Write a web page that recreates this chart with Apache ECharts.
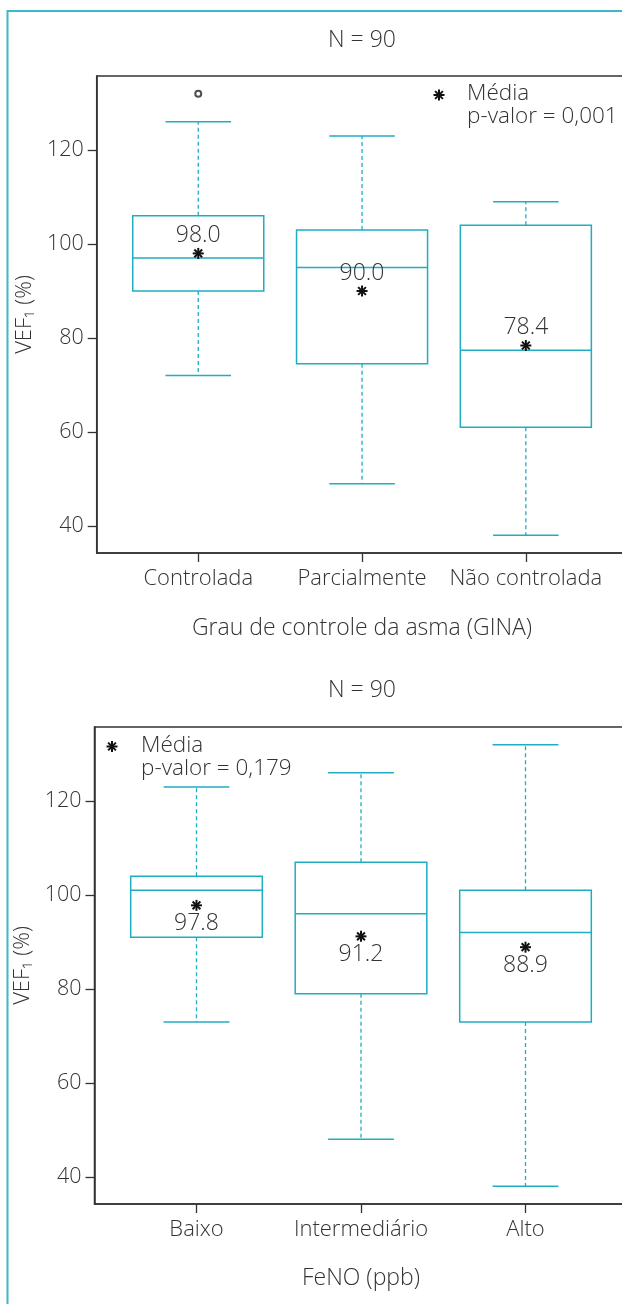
<!DOCTYPE html>
<html><head><meta charset="utf-8">
<script src="https://cdn.jsdelivr.net/npm/echarts@6/dist/echarts.min.js"></script>
<style>html,body{margin:0;padding:0;background:#fff}#c{width:622px;height:1304px}</style>
</head><body><div id="c"></div>
<script>
// ---- Data: top chart (GINA asthma control) ----
const ginaCats = ['Controlada', 'Parcialmente', 'Não controlada'];
const ginaLow  = [72, 49, 38];
const ginaQ1   = [90, 74.5, 61];
const ginaMed  = [97, 95, 77.4];
const ginaQ3   = [106, 103, 104];
const ginaHigh = [126, 123, 109];
const ginaMean = [98.0, 90.0, 78.4];
const ginaOutliers = [[1, 132]];

// ---- Data: bottom chart (FeNO) ----
const fenoCats = ['Baixo', 'Intermediário', 'Alto'];
const fenoLow  = [73, 48, 38];
const fenoQ1   = [91, 79, 73];
const fenoMed  = [101, 96, 92];
const fenoQ3   = [104, 107, 101];
const fenoHigh = [123, 126, 132];
const fenoMean = [97.8, 91.2, 88.9];

const yTicks = [40, 60, 80, 100, 120];
const xPos = [1, 2, 3];

const FONT = "'Open Sans','Noto Sans',sans-serif";
const FW = '300';
const CYAN = '#1fadc2';
const TXT = '#333';
const AX = '#333';

function starEls(cx, cy, r) {
  const els = [];
  for (let k = 0; k < 4; k++) {
    const a = k * Math.PI / 4 + Math.PI / 2;
    els.push({type: 'line', shape: {x1: cx - r * Math.cos(a), y1: cy - r * Math.sin(a), x2: cx + r * Math.cos(a), y2: cy + r * Math.sin(a)},
      style: {stroke: '#111', lineWidth: 2}});
  }
  return els;
}

function boxRender(params, api) {
  const x = api.value(0);
  const lo = api.coord([x, api.value(1)]);
  const q1 = api.coord([x, api.value(2)]);
  const md = api.coord([x, api.value(3)]);
  const q3 = api.coord([x, api.value(4)]);
  const hi = api.coord([x, api.value(5)]);
  const bw = api.size([0.8, 0])[0];
  const cw = api.size([0.4, 0])[0];
  const cx = md[0];
  const solid = {stroke: CYAN, lineWidth: 1.5, fill: null};
  const dashed = {stroke: CYAN, lineWidth: 1.3, lineDash: [4, 3]};
  return {type: 'group', children: [
    {type: 'line', shape: {x1: cx, y1: q3[1], x2: cx, y2: hi[1]}, style: dashed},
    {type: 'line', shape: {x1: cx, y1: q1[1], x2: cx, y2: lo[1]}, style: dashed},
    {type: 'line', shape: {x1: cx - cw / 2, y1: hi[1], x2: cx + cw / 2, y2: hi[1]}, style: solid},
    {type: 'line', shape: {x1: cx - cw / 2, y1: lo[1], x2: cx + cw / 2, y2: lo[1]}, style: solid},
    {type: 'rect', shape: {x: cx - bw / 2, y: q3[1], width: bw, height: q1[1] - q3[1]}, style: {stroke: CYAN, lineWidth: 1.5, fill: '#fff'}},
    {type: 'line', shape: {x1: cx - bw / 2, y1: md[1], x2: cx + bw / 2, y2: md[1]}, style: solid}
  ]};
}

function meanRender(offset) {
  return function (params, api) {
    const p = api.coord([api.value(0), api.value(1)]);
    const els = starEls(p[0], p[1], 5.5);
    els.push({type: 'text', style: {x: p[0], y: p[1] + offset, text: api.value(1).toFixed(1),
      fill: TXT, font: FW + ' 23px ' + FONT, textAlign: 'center', textVerticalAlign: 'middle'}});
    return {type: 'group', children: els};
  };
}

function boxRows(low, q1, med, q3, high) {
  return xPos.map((x, i) => [x, low[i], q1[i], med[i], q3[i], high[i]]);
}

function xAxisFor(gi, cats, name, gap) {
  return {
    gridIndex: gi, type: 'value', min: 0.38, max: 3.62,
    splitLine: {show: false},
    axisLine: {show: true, onZero: false, lineStyle: {color: AX, width: 1.5}},
    axisTick: {show: true, length: 9, customValues: xPos, lineStyle: {color: AX, width: 1.3}},
    axisLabel: {customValues: xPos, formatter: v => cats[Math.round(v) - 1] || '', color: TXT, fontSize: 22, fontWeight: FW, fontFamily: FONT, margin: 15},
    name: name, nameLocation: 'middle', nameGap: gap,
    nameTextStyle: {color: TXT, fontSize: 23, fontWeight: FW, fontFamily: FONT}
  };
}
function yAxisFor(gi) {
  return {
    gridIndex: gi, type: 'value', min: 34.24, max: 135.76,
    splitLine: {show: false},
    axisLine: {show: true, onZero: false, lineStyle: {color: AX, width: 1.5}},
    axisTick: {show: true, length: 9, customValues: yTicks, lineStyle: {color: AX, width: 1.3}},
    axisLabel: {customValues: yTicks, color: TXT, fontSize: 21.5, fontWeight: FW, fontFamily: FONT, margin: 13},
    name: 'VEF₁ (%)', nameLocation: 'middle', nameGap: 55,
    nameTextStyle: {color: TXT, fontSize: 22, fontWeight: FW, fontFamily: FONT}
  };
}

function legendEls(sx, sy, tx, ty1, ty2, ptxt) {
  const els = starEls(sx, sy, 5.5);
  els.push({type: 'text', style: {x: tx, y: ty1, text: 'Média', fill: TXT, font: FW + ' 22.5px ' + FONT, textVerticalAlign: 'middle'}});
  els.push({type: 'text', style: {x: tx, y: ty2, text: ptxt, fill: TXT, font: FW + ' 22.5px ' + FONT, textVerticalAlign: 'middle'}});
  return els;
}

const chart = echarts.init(document.getElementById('c'), null, {renderer: 'canvas', width: 622, height: 1304});
chart.setOption({
  animation: false,
  backgroundColor: '#fff',
  grid: [
    {left: 96.7, top: 76, width: 530.7, height: 477, outerBoundsMode: 'none', containLabel: false, show: true, borderColor: AX, borderWidth: 1.5, backgroundColor: 'transparent'},
    {left: 94.5, top: 727, width: 533, height: 477, outerBoundsMode: 'none', containLabel: false, show: true, borderColor: AX, borderWidth: 1.5, backgroundColor: 'transparent'}
  ],
  xAxis: [xAxisFor(0, ginaCats, 'Grau de controle da asma (GINA)', 64), xAxisFor(1, fenoCats, 'FeNO (ppb)', 63)],
  yAxis: [yAxisFor(0), yAxisFor(1)],
  graphic: [
    {type: 'rect', silent: true, shape: {x: 7.5, y: 11, width: 700, height: 1400}, style: {fill: null, stroke: '#3cb8c8', lineWidth: 2}},
    {type: 'text', style: {x: 362, y: 40, text: 'N = 90', fill: TXT, font: FW + ' 23px ' + FONT, textAlign: 'center', textVerticalAlign: 'middle'}},
    {type: 'text', style: {x: 362, y: 690, text: 'N = 90', fill: TXT, font: FW + ' 23px ' + FONT, textAlign: 'center', textVerticalAlign: 'middle'}},
    {type: 'group', children: legendEls(439, 95, 467, 94, 116.5, 'p-valor = 0,001')},
    {type: 'group', children: legendEls(112, 746.5, 141, 745.5, 769, 'p-valor = 0,179')}
  ],
  series: [
    {type: 'custom', xAxisIndex: 0, yAxisIndex: 0, renderItem: boxRender, data: boxRows(ginaLow, ginaQ1, ginaMed, ginaQ3, ginaHigh), z: 2},
    {type: 'custom', xAxisIndex: 0, yAxisIndex: 0, renderItem: meanRender(-18), data: xPos.map((x, i) => [x, ginaMean[i]]), z: 3},
    {type: 'scatter', xAxisIndex: 0, yAxisIndex: 0, symbol: 'emptyCircle', symbolSize: 6, itemStyle: {color: '#222', borderWidth: 1}, data: ginaOutliers, z: 3},
    {type: 'custom', xAxisIndex: 1, yAxisIndex: 1, renderItem: boxRender, data: boxRows(fenoLow, fenoQ1, fenoMed, fenoQ3, fenoHigh), z: 2},
    {type: 'custom', xAxisIndex: 1, yAxisIndex: 1, renderItem: meanRender(18), data: xPos.map((x, i) => [x, fenoMean[i]]), z: 3}
  ]
});
</script>
</body></html>
